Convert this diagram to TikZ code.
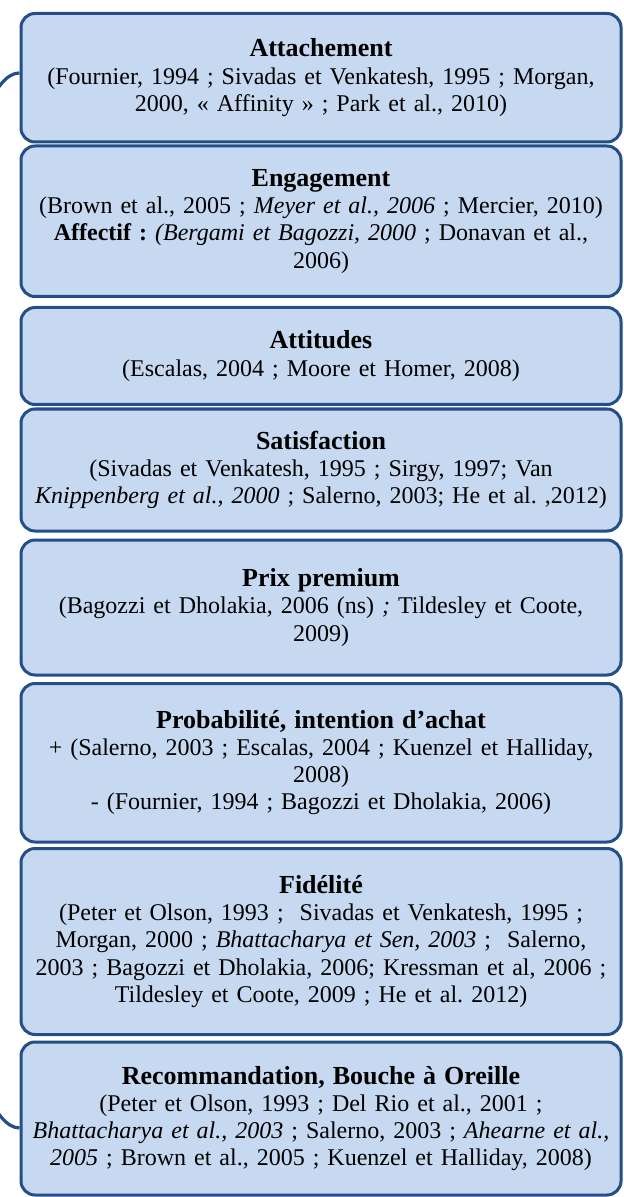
\documentclass[tikz,border=0pt]{standalone}
\usepackage{fontspec}
\setmainfont{Liberation Serif}
\usetikzlibrary{backgrounds}
\definecolor{boxfill}{RGB}{198,217,241}
\definecolor{boxline}{RGB}{35,78,135}
\begin{document}
\frenchspacing
\begin{tikzpicture}[x=0.5pt,y=-0.5pt,
  refbox/.style={draw=boxline, fill=boxfill, line width=1.5pt,
    rounded corners=7pt, minimum width=300pt, inner sep=0pt,
    text width=296pt, align=center,
    font=\fontsize{12}{13.6}\selectfont\frenchspacing},
  conn/.style={draw=boxline, line width=1.6pt}]
\newcommand{\ttl}[1]{{\fontsize{13}{13.6}\selectfont\bfseries #1}}
\useasboundingbox (0,0) rectangle (624,1197);

% boxes, top to bottom
\node[refbox, minimum height=64.25pt] (b1) at (321,77.75)
  {\ttl{Attachement}\\
   (Fournier, 1994 ; Sivadas et Venkatesh, 1995 ; Morgan,\\
   2000, « Affinity » ; Park et al., 2010)};

\node[refbox, minimum height=75.25pt] (b2) at (321,221.25)
  {\ttl{Engagement}\\
   (Brown et al., 2005 ; \textit{Meyer et al., 2006} ; Mercier, 2010)\\
   \textbf{Affectif :} \textit{(Bergami et Bagozzi, 2000} ; Donavan et al.,\\
   2006)};

\node[refbox, minimum height=48.5pt] (b3) at (321,356)
  {\ttl{Attitudes}\\
   (Escalas, 2004 ; Moore et Homer, 2008)};

\node[refbox, minimum height=61pt] (b4) at (321,470)
  {\ttl{Satisfaction}\\
   (Sivadas et Venkatesh, 1995 ; Sirgy, 1997; Van\\
   \textit{Knippenberg et al., 2000} ; Salerno, 2003; He et al. ,2012)};

\node[refbox, minimum height=67.5pt] (b5) at (321,607.5)
  {\ttl{Prix premium}\\
   (Bagozzi et Dholakia, 2006 (ns) \textit{;} Tildesley et Coote,\\
   2009)\\[13.6pt]};

\node[refbox, minimum height=79.25pt] (b6) at (321,762.75)
  {\ttl{Probabilité, intention d’achat}\\
   + (Salerno, 2003 ; Escalas, 2004 ; Kuenzel et Halliday,\\
   2008)\\
   - (Fournier, 1994 ; Bagozzi et Dholakia, 2006)};

\node[refbox, minimum height=93pt] (b7) at (321,941.5)
  {\ttl{Fidélité}\\
   (Peter et Olson, 1993 ;\ \ Sivadas et Venkatesh, 1995 ;\\
   Morgan, 2000 ; \textit{Bhattacharya et Sen, 2003} ;\ \ Salerno,\\
   2003 ; Bagozzi et Dholakia, 2006; Kressman et al, 2006 ;\\
   Tildesley et Coote, 2009 ; He et al. 2012)};

\node[refbox, minimum height=76.5pt] (b8) at (321,1118.5)
  {\ttl{Recommandation, Bouche à Oreille}\\
   (Peter et Olson, 1993 ; Del Rio et al., 2001 ;\\
   \textit{Bhattacharya et al., 2003} ; Salerno, 2003 ; \textit{Ahearne et al.,}\\
   \textit{2005} ; Brown et al., 2005 ; Kuenzel et Halliday, 2008)};

% curved bracket from the first box round to the last one, behind the boxes
\begin{scope}[on background layer]
\draw[conn] ([yshift=2.4pt]b1.west)
  arc[start angle=90, end angle=270, x radius=45pt, y radius=263.75pt];
\end{scope}
\end{tikzpicture}
\end{document}
